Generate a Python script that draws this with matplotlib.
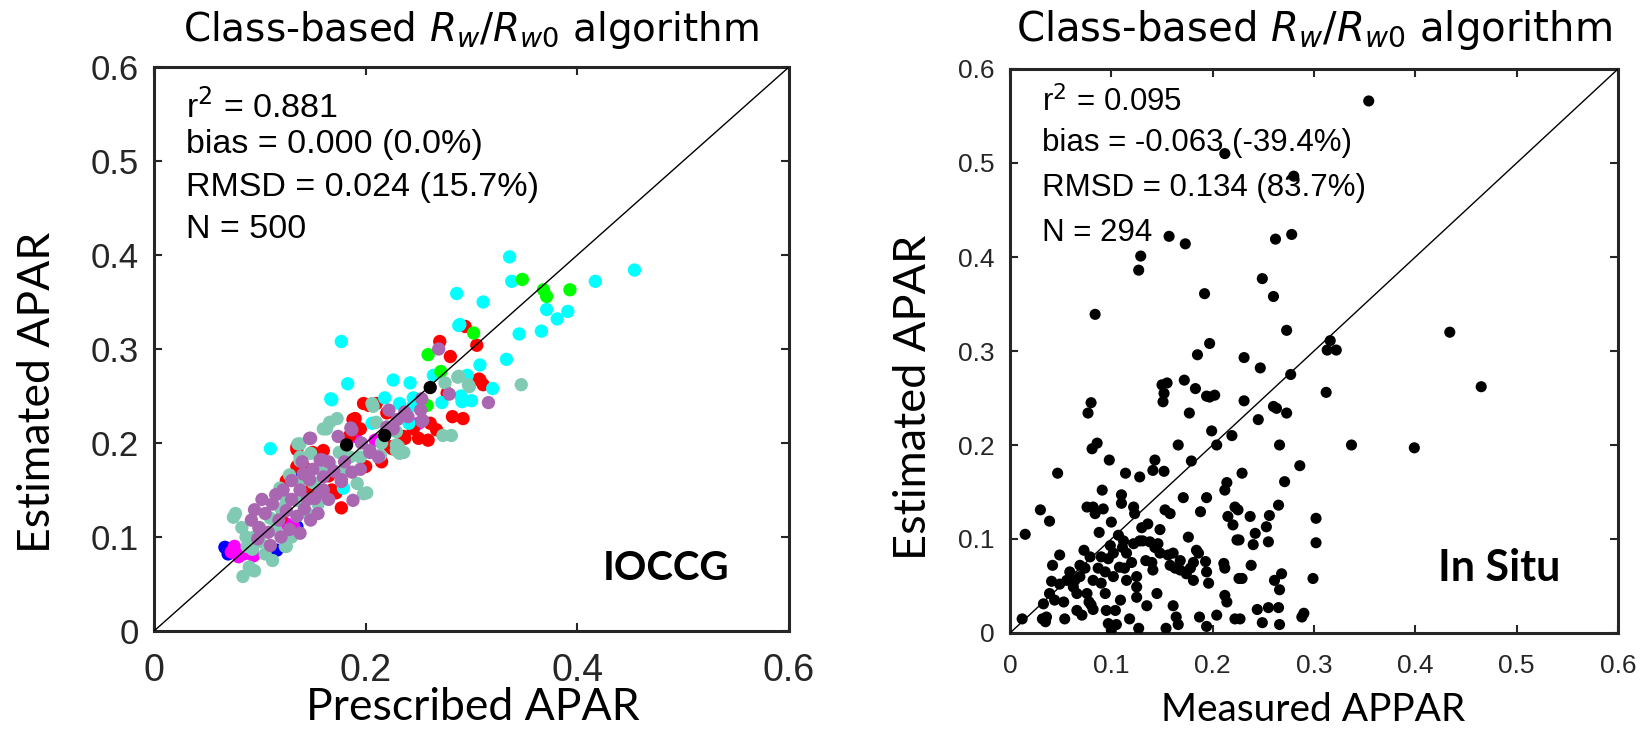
import matplotlib
matplotlib.use("Agg")
import matplotlib.pyplot as plt
from matplotlib import font_manager

# ---------------- Left panel (IOCCG) data ----------------
cyan_x = [0.336, 0.338, 0.454, 0.417, 0.286, 0.311, 0.371, 0.391, 0.381, 0.288, 0.345, 0.366,
          0.333, 0.308, 0.296, 0.264, 0.226, 0.242, 0.320, 0.290, 0.291, 0.300, 0.272, 0.218,
          0.245, 0.241, 0.177, 0.183, 0.167, 0.206, 0.232, 0.245, 0.289, 0.110, 0.168, 0.179]
cyan_y = [0.398, 0.372, 0.384, 0.372, 0.359, 0.350, 0.342, 0.340, 0.332, 0.325, 0.316, 0.319,
          0.289, 0.283, 0.272, 0.272, 0.267, 0.264, 0.258, 0.250, 0.244, 0.245, 0.243, 0.248,
          0.248, 0.221, 0.308, 0.263, 0.247, 0.221, 0.242, 0.240, 0.326, 0.194, 0.246, 0.152]

green_x = [0.348, 0.368, 0.371, 0.393, 0.302, 0.259, 0.271, 0.258]
green_y = [0.374, 0.363, 0.356, 0.363, 0.317, 0.294, 0.276, 0.240]

red_x = [0.294, 0.270, 0.305, 0.280, 0.307, 0.311, 0.282, 0.292, 0.259, 0.261, 0.267, 0.237,
         0.225, 0.277, 0.190, 0.223, 0.135, 0.203, 0.308, 0.210, 0.160, 0.188, 0.177, 0.225,
         0.236, 0.135, 0.135, 0.142, 0.168, 0.172, 0.198, 0.185, 0.150, 0.200, 0.215, 0.165,
         0.125, 0.145, 0.195, 0.120, 0.220, 0.250, 0.245]
red_y = [0.324, 0.308, 0.304, 0.292, 0.268, 0.262, 0.228, 0.226, 0.203, 0.221, 0.214, 0.205,
         0.195, 0.253, 0.226, 0.196, 0.196, 0.240, 0.267, 0.242, 0.192, 0.225, 0.131, 0.194,
         0.207, 0.193, 0.175, 0.174, 0.150, 0.147, 0.242, 0.208, 0.190, 0.175, 0.180, 0.165,
         0.160, 0.150, 0.215, 0.120, 0.232, 0.205, 0.215]

magenta_x = [0.073, 0.080, 0.076, 0.085, 0.094, 0.190, 0.209, 0.250, 0.125, 0.132]
magenta_y = [0.084, 0.079, 0.090, 0.082, 0.080, 0.207, 0.203, 0.221, 0.114, 0.111]

blue_x = [0.067, 0.135, 0.138, 0.116, 0.070]
blue_y = [0.089, 0.111, 0.171, 0.086, 0.082]

black_x = [0.261, 0.218, 0.182]
black_y = [0.259, 0.208, 0.198]

teal_x = [0.288, 0.298, 0.275, 0.347, 0.273, 0.281, 0.229, 0.231, 0.236, 0.214, 0.173, 0.166,
          0.160, 0.206, 0.229, 0.232, 0.287, 0.297, 0.136, 0.138, 0.148, 0.201, 0.192, 0.166,
          0.163, 0.138, 0.128, 0.119, 0.077, 0.083, 0.087, 0.093, 0.090, 0.095, 0.084, 0.092,
          0.125, 0.198, 0.229, 0.207, 0.138, 0.135, 0.075, 0.124, 0.100, 0.110, 0.115, 0.125,
          0.140, 0.150, 0.105, 0.112, 0.130, 0.145, 0.155, 0.160, 0.175, 0.185, 0.195, 0.215,
          0.180, 0.120, 0.100, 0.095, 0.088, 0.210]
teal_y = [0.271, 0.260, 0.264, 0.262, 0.208, 0.208, 0.212, 0.196, 0.190, 0.187, 0.226, 0.222,
          0.215, 0.242, 0.198, 0.189, 0.270, 0.262, 0.199, 0.185, 0.189, 0.147, 0.157, 0.178,
          0.215, 0.199, 0.166, 0.152, 0.125, 0.110, 0.100, 0.087, 0.068, 0.064, 0.058, 0.065,
          0.090, 0.146, 0.192, 0.239, 0.181, 0.139, 0.121, 0.090, 0.095, 0.120, 0.108, 0.140,
          0.160, 0.158, 0.082, 0.075, 0.100, 0.125, 0.135, 0.170, 0.190, 0.185, 0.185, 0.200,
          0.172, 0.130, 0.110, 0.100, 0.090, 0.222]

purple_x = [0.269, 0.279, 0.316, 0.253, 0.252, 0.253, 0.222, 0.237, 0.220, 0.254, 0.186, 0.174,
            0.148, 0.157, 0.204, 0.195, 0.177, 0.160, 0.141, 0.157, 0.095, 0.099, 0.147, 0.187,
            0.159, 0.147, 0.152, 0.177, 0.187, 0.188, 0.204, 0.138, 0.110, 0.105, 0.112, 0.118,
            0.125, 0.130, 0.135, 0.142, 0.148, 0.102, 0.108, 0.120, 0.128, 0.115, 0.122, 0.138,
            0.145, 0.155, 0.160, 0.165, 0.170, 0.165, 0.180, 0.092, 0.098, 0.130, 0.140, 0.150,
            0.212, 0.196, 0.226, 0.230, 0.240]
purple_y = [0.300, 0.252, 0.243, 0.247, 0.235, 0.223, 0.235, 0.233, 0.217, 0.224, 0.216, 0.207,
            0.205, 0.182, 0.190, 0.172, 0.159, 0.164, 0.167, 0.147, 0.129, 0.110, 0.205, 0.214,
            0.182, 0.161, 0.141, 0.161, 0.169, 0.139, 0.192, 0.104, 0.091, 0.125, 0.135, 0.118,
            0.128, 0.140, 0.122, 0.130, 0.118, 0.140, 0.105, 0.100, 0.108, 0.145, 0.150, 0.150,
            0.140, 0.125, 0.150, 0.140, 0.170, 0.180, 0.180, 0.118, 0.098, 0.160, 0.180, 0.172,
            0.185, 0.200, 0.215, 0.225, 0.228]

left_stats = ["r$^2$ = 0.881", "bias = 0.000 (0.0%)", "RMSD = 0.024 (15.7%)", "N = 500"]

# ---------------- Right panel (In Situ) data ----------------
situ_x = [0.012, 0.015, 0.030, 0.039, 0.047, 0.032, 0.035, 0.036, 0.033, 0.039, 0.042, 0.041,
          0.044, 0.049, 0.053, 0.054, 0.059, 0.0625, 0.064, 0.066, 0.066, 0.069, 0.071, 0.073,
          0.074, 0.076, 0.077, 0.080, 0.081, 0.082, 0.084, 0.086, 0.076, 0.078, 0.080, 0.082,
          0.082, 0.088, 0.090, 0.091, 0.092, 0.094, 0.094, 0.095, 0.097, 0.100, 0.105, 0.099,
          0.097, 0.098, 0.100, 0.102, 0.104, 0.109, 0.107, 0.110, 0.110, 0.111, 0.112, 0.114,
          0.113, 0.115, 0.118, 0.120, 0.122, 0.123, 0.125, 0.125, 0.127, 0.128, 0.128, 0.130,
          0.134, 0.135, 0.136, 0.138, 0.140, 0.141, 0.141, 0.143, 0.143, 0.145, 0.146, 0.148,
          0.150, 0.152, 0.151, 0.152, 0.153, 0.154, 0.156, 0.158, 0.158, 0.161, 0.163, 0.164,
          0.166, 0.166, 0.168, 0.171, 0.176, 0.177, 0.178, 0.181, 0.179, 0.184, 0.186, 0.188,
          0.187, 0.193, 0.194, 0.196, 0.194, 0.194, 0.194, 0.197, 0.202, 0.199, 0.204, 0.204,
          0.211, 0.212, 0.212, 0.214, 0.212, 0.214, 0.215, 0.219, 0.220, 0.222, 0.225, 0.222,
          0.227, 0.224, 0.226, 0.226, 0.229, 0.229, 0.231, 0.237, 0.238, 0.240, 0.242, 0.244,
          0.245, 0.249, 0.253, 0.256, 0.255, 0.255, 0.265, 0.260, 0.263, 0.261, 0.265, 0.266,
          0.266, 0.268, 0.266, 0.271, 0.273, 0.286, 0.290, 0.288, 0.299, 0.302, 0.302, 0.312,
          0.172, 0.183,
          0.354, 0.212, 0.280, 0.157, 0.173, 0.262, 0.278, 0.129, 0.127, 0.249, 0.192, 0.260,
          0.084, 0.273, 0.434, 0.197, 0.185, 0.316, 0.313, 0.322, 0.231, 0.247, 0.277, 0.155,
          0.465, 0.337, 0.399,
          0.069, 0.087, 0.090, 0.102, 0.108, 0.115, 0.122, 0.131, 0.125, 0.148, 0.161, 0.168,
          0.174, 0.181, 0.079, 0.056, 0.049]
situ_y = [0.015, 0.105, 0.131, 0.119, 0.170, 0.015, 0.012, 0.017, 0.031, 0.042, 0.072, 0.055,
          0.035, 0.083, 0.033, 0.015, 0.065, 0.049, 0.056, 0.042, 0.024, 0.072, 0.019, 0.088,
          0.069, 0.134, 0.234, 0.245, 0.196, 0.134, 0.127, 0.202, 0.042, 0.033, 0.030, 0.025,
          0.056, 0.107, 0.081, 0.152, 0.132, 0.065, 0.042, 0.024, 0.010, 0.003, 0.009, 0.093,
          0.079, 0.184, 0.118, 0.060, 0.024, 0.035, 0.104, 0.147, 0.138, 0.091, 0.098, 0.170,
          0.069, 0.056, 0.015, 0.075, 0.134, 0.127, 0.049, 0.038, 0.005, 0.098, 0.166, 0.112,
          0.077, 0.029, 0.116, 0.097, 0.075, 0.067, 0.173, 0.184, 0.091, 0.042, 0.095, 0.110,
          0.264, 0.255, 0.246, 0.172, 0.131, 0.005, 0.083, 0.072, 0.127, 0.029, 0.069, 0.017,
          0.009, 0.200, 0.077, 0.144, 0.102, 0.234, 0.069, 0.075, 0.183, 0.088, 0.085, 0.129,
          0.017, 0.076, 0.065, 0.053, 0.007, 0.144, 0.252, 0.251, 0.253, 0.215, 0.200, 0.019,
          0.074, 0.069, 0.152, 0.160, 0.040, 0.033, 0.124, 0.210, 0.115, 0.134, 0.131, 0.015,
          0.015, 0.099, 0.099, 0.058, 0.058, 0.170, 0.247, 0.124, 0.072, 0.094, 0.106, 0.025,
          0.227, 0.011, 0.113, 0.125, 0.097, 0.027, 0.027, 0.241, 0.239, 0.056, 0.136, 0.200,
          0.046, 0.063, 0.009, 0.161, 0.234, 0.178, 0.021, 0.017, 0.058, 0.122, 0.096, 0.256,
          0.269, 0.260,
          0.566, 0.510, 0.486, 0.422, 0.414, 0.419, 0.424, 0.401, 0.386, 0.377, 0.361, 0.358,
          0.339, 0.322, 0.320, 0.308, 0.296, 0.311, 0.301, 0.301, 0.293, 0.282, 0.275, 0.266,
          0.262, 0.200, 0.197,
          0.060, 0.069, 0.053, 0.085, 0.070, 0.085, 0.095, 0.098, 0.060, 0.085, 0.085, 0.067,
          0.063, 0.056, 0.081, 0.056, 0.052]

right_stats = ["r$^2$ = 0.095", "bias = -0.063 (-39.4%)", "RMSD = 0.134 (83.7%)", "N = 294"]

title_text = r"Class-based $R_w$/$R_{w0}$ algorithm"
ticks_left_x = [0, 0.2, 0.4, 0.6]
ticks_left_y = [0, 0.1, 0.2, 0.3, 0.4, 0.5, 0.6]
ticks_right = [0, 0.1, 0.2, 0.3, 0.4, 0.5, 0.6]

# ---------------- Fonts ----------------
installed = {f.name for f in font_manager.fontManager.ttflist}
narrow = "Liberation Sans Narrow" if "Liberation Sans Narrow" in installed else "Liberation Sans"
narrow_size = 31 if narrow == "Liberation Sans Narrow" else 27

# ---------------- Figure ----------------
W, H = 1650, 742
fig = plt.figure(figsize=(W / 100, H / 100), dpi=100)
fig.patch.set_facecolor("white")

def px_axes(x0, y0, x1, y1):
    return fig.add_axes([x0 / W, 1 - y1 / H, (x1 - x0) / W, (y1 - y0) / H])

axL = px_axes(154, 67, 789, 631)
axR = px_axes(1010, 69, 1618, 633)

tick_col = "#262626"
for ax in (axL, axR):
    ax.set_xlim(0, 0.6)
    ax.set_ylim(0, 0.6)
    for sp in ax.spines.values():
        sp.set_linewidth(2.2)
        sp.set_color(tick_col)
    ax.tick_params(direction="in", length=6, width=1.5, colors=tick_col,
                   top=True, right=True)
    ax.plot([0, 0.6], [0, 0.6], color="black", lw=1.0, zorder=5)

axL.set_xticks(ticks_left_x)
axL.set_xticklabels(["0", "0.2", "0.4", "0.6"], family=narrow, fontsize=narrow_size)
axL.set_yticks(ticks_left_y)
axL.set_yticklabels(["0", "0.1", "0.2", "0.3", "0.4", "0.5", "0.6"],
                    family="Liberation Sans", fontsize=25)
axL.tick_params(axis="x", pad=16)
axL.tick_params(axis="y", pad=11)

axR.set_xticks(ticks_right)
axR.set_xticklabels(["0", "0.1", "0.2", "0.3", "0.4", "0.5", "0.6"],
                    family="Liberation Sans", fontsize=19)
axR.set_yticks(ticks_right)
axR.set_yticklabels(["0", "0.1", "0.2", "0.3", "0.4", "0.5", "0.6"],
                    family="Liberation Sans", fontsize=19)
axR.tick_params(axis="x", pad=15)
axR.tick_params(axis="y", pad=11)

groups = [
    (blue_x, blue_y, "#0000FF"),
    (magenta_x, magenta_y, "#FF00FF"),
    (red_x, red_y, "#FF0000"),
    (cyan_x, cyan_y, "#00FFFF"),
    (green_x, green_y, "#00FF00"),
    (teal_x, teal_y, "#80CAB3"),
    (purple_x, purple_y, "#A967B2"),
    (black_x, black_y, "#000000"),
]
for gx, gy, c in groups:
    axL.scatter(gx, gy, s=92, c=c, edgecolors="none", zorder=3)

axR.scatter(situ_x, situ_y, s=64, c="black", edgecolors="none", zorder=3)

# stats text
for t, yy in zip(left_stats, [0.929, 0.862, 0.787, 0.711]):
    axL.text(0.050, yy, t, transform=axL.transAxes, fontsize=24.5,
             family="Liberation Sans", color="black", va="center", ha="left", zorder=6)
for t, yy in zip(right_stats, [0.941, 0.869, 0.789, 0.709]):
    axR.text(0.053, yy, t, transform=axR.transAxes, fontsize=22.5,
             family="Liberation Sans", color="black", va="center", ha="left", zorder=6)

fig.text(666 / W, 1 - 568 / H, "IOCCG", fontsize=29, fontweight="bold", family="Lato",
         ha="center", va="center")
fig.text(1499 / W, 1 - 568 / H, "In Situ", fontsize=31, fontweight="bold", family="Lato",
         ha="center", va="center")

# titles
fig.text(471 / W, 1 - 30 / H, title_text, fontsize=28, family="DejaVu Sans",
         ha="center", va="center")
fig.text(1314 / W, 1 - 30 / H, title_text, fontsize=29, family="DejaVu Sans",
         ha="center", va="center")

# axis labels
fig.text(473 / W, 1 - 707 / H, "Prescribed APAR", fontsize=32, family="Lato",
         ha="center", va="center")
fig.text(38 / W, 1 - 392 / H, "Estimated APAR", fontsize=32, family="Lato",
         ha="center", va="center", rotation=90)
fig.text(1313 / W, 1 - 710 / H, "Measured APPAR", fontsize=28, family="Lato",
         ha="center", va="center")
fig.text(914 / W, 1 - 397 / H, "Estimated APAR", fontsize=32.5, family="Lato",
         ha="center", va="center", rotation=90)

fig.savefig("out.png", dpi=100, facecolor="white")
